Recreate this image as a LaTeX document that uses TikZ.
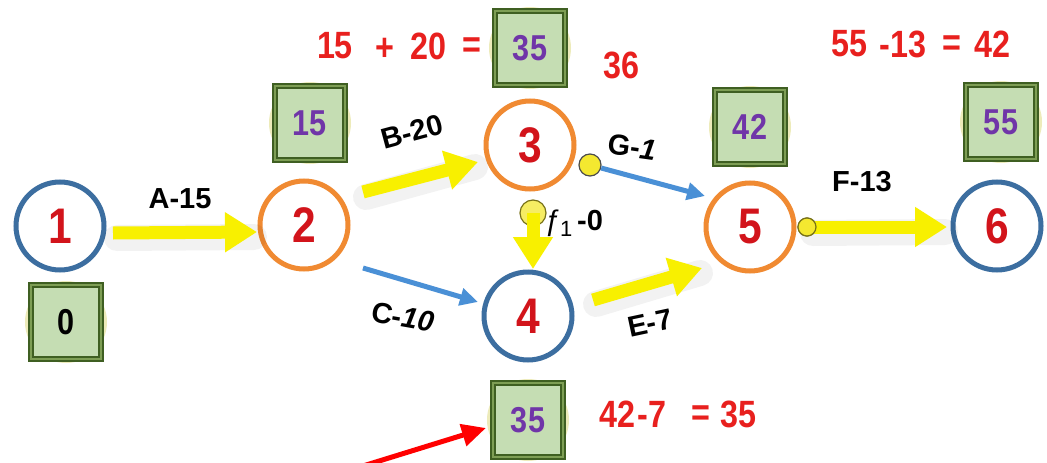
\documentclass[tikz,border=0pt]{standalone}
\usepackage{fontspec}
\setmainfont{Liberation Sans}
\newfontfamily\narrowfont[FakeStretch=0.85]{Liberation Sans}
\usetikzlibrary{arrows.meta,calc}
\definecolor{numred}{HTML}{D2141B}
\definecolor{eqred}{HTML}{E8201E}
\definecolor{evorange}{HTML}{F08A32}
\definecolor{evblue}{HTML}{3C6EA0}
\definecolor{boxfill}{HTML}{C5DDB3}
\definecolor{boxdark}{HTML}{3F5F22}
\definecolor{boxmid}{HTML}{7E9E55}
\definecolor{boxtext}{HTML}{7035A8}
\definecolor{arrowyellow}{HTML}{F8F000}
\definecolor{arrowblue}{HTML}{4A90D6}
\definecolor{dotyellow}{HTML}{F4E830}
\tikzset{
  ev/.style={circle, minimum size=88pt, inner sep=0pt, line width=5pt, fill=white,
    font=\narrowfont\bfseries\fontsize{50}{54}\selectfont, text=numred},
  evo/.style={ev, draw=evorange},
  evb/.style={ev, draw=evblue},
  halo/.style={circle, minimum size=82pt, inner sep=0pt, fill=dotyellow!60!olive, opacity=0.3},
  tbox/.style={rectangle, minimum width=70pt, minimum height=74pt, inner sep=0pt,
    fill=boxfill, draw=boxdark, line width=2.2pt, double=boxmid, double distance=1.8pt,
    font=\narrowfont\bfseries\fontsize{36}{40}\selectfont, text=boxtext},
  elabel/.style={font=\bfseries\fontsize{29}{34}\selectfont, text=black, inner sep=0pt},
  eqtext/.style={font=\narrowfont\bfseries\fontsize{38}{42}\selectfont, text=eqred, inner sep=0pt},
  yarrow/.style={draw=arrowyellow, line width=13pt, -{Triangle[length=32pt,width=38pt]}},
  yshadow/.style={draw=black, opacity=0.05, line width=26pt, line cap=round},
  barrow/.style={draw=arrowblue, line width=5pt, -{Triangle[length=18pt,width=17pt]}},
  rarrow/.style={draw=red, line width=5pt, -{Triangle[length=24pt,width=22pt]}},
  ydot/.style={circle, minimum size=22pt, inner sep=0pt, fill=dotyellow, draw=black!70, line width=1.2pt},
}
\begin{document}
\begin{tikzpicture}[x=1pt,y=-1pt]
\useasboundingbox (0,0) rectangle (1047,463);
\clip (0,0) rectangle (1047,463);
\fill[white] (0,0) rectangle (1047,463);

% halos behind boxes
\node[halo] at (66,322) {};
\node[halo] at (310,123) {};
\node[halo] at (530,48) {};
\node[halo] at (750,127) {};
\node[halo] at (1001,122) {};
\node[halo] at (528,420) {};

% event circles
\node[evb] (n1) at (60,226) {1};
\node[evo] (n2) at (304,225) {2};
\node[evo] (n3) at (530,145) {3};
\node[evb] (n4) at (528,316) {4};
\node[evo] (n5) at (750,227) {5};
\node[evb] (n6) at (997,226) {6};

% time boxes
\node[tbox, text=black] (b0) at (66,322) {0};
\node[tbox] (b15) at (310,123) {15};
\node[tbox] (b35t) at (530,48) {35};
\node[tbox] (b42) at (750,127) {42};
\node[tbox] (b55) at (1001,122) {55};
\node[tbox] (b35b) at (528,420) {35};

% dots
\node[ydot] (gdot) at ($(n3)+(60,20)$) {};
\node[ydot, minimum size=26pt, fill opacity=0.75, draw=olive!80!black] (ddot) at ($(n3)+(3,68)$) {};
\node[ydot, minimum size=18pt, draw=olive!80!black] (fdot) at ($(n5)+(57,0)$) {};

% shadows of yellow arrows
\draw[yshadow] ($(n1)+(57,12)$) -- ($(n2)+(-50,12)$);
\draw[yshadow] ($(n2)+(62,-28)$) -- ($(n3)+(-55,22)$);
\draw[yshadow] ($(n4)+(68,-12)$) -- ($(n5)+(-50,46)$);
\draw[yshadow] ($(fdot)+(6,6)$) -- ($(n6)+(-52,6)$);

% yellow arrows
\draw[yarrow] ($(n1)+(53,7)$) -- ($(n2)+(-47,7)$);
\draw[yarrow] ($(n2)+(59,-33)$) -- ($(n3)+(-52,17)$);
\draw[yarrow] (ddot.center) -- ($(n4)+(5,-47)$);
\draw[yarrow] ($(n4)+(65,-16)$) -- ($(n5)+(-48,41)$);
\draw[yarrow] (fdot.center) -- ($(n6)+(-50,1)$);
\node[ydot, minimum size=18pt, draw=olive!80!black] at (fdot) {};

% blue arrows
\draw[barrow] ($(n2)+(59,43)$) -- ($(n4)+(-50,-14)$);
\draw[barrow] (gdot) -- ($(n5)+(-45,-31)$);

% red arrow
\coordinate (redstart) at (350,470);
\draw[rarrow] (redstart) -- ($(b35b.west)+(-6,8)$);

% activity labels
\node[elabel] (la) at (180,199) {A-15};
\node[elabel, rotate=15] (lb) at (412,132) {B-20};
\node[elabel, rotate=-10] (lc) at (403,317) {C-\textit{10}};
\node[elabel, rotate=-8] (lg) at (632,147) {G-\textit{1}};
\node[elabel] (lf) at (574,223) {{\mdseries ƒ\kern-1pt\raisebox{-6pt}{\fontsize{22}{22}\selectfont 1}}\,-0};
\node[elabel, rotate=12] (le) at (650,323) {E-7};
\node[elabel] (lff) at (862,182) {F-13};

% calculations
\node[eqtext] (e1) at (335,46) {15};
\node[eqtext] (e2) at (385,49) {+};
\node[eqtext] (e3) at (428,46) {20};
\node[eqtext] (e4) at (472,48) {=};
\node[eqtext] (e36) at (621,65) {36};
\node[eqtext] (f1) at (849,44) {55};
\node[eqtext] (f2) at (903,44) {-13};
\node[eqtext] (f3) at (952,46) {=};
\node[eqtext] (f4) at (992,44) {42};
\node[eqtext] (g1) at (617,414) {42};
\node[eqtext] (g2) at (652,414) {-7};
\node[eqtext] (g3) at (701,416) {=};
\node[eqtext] (g4) at (738,414) {35};
\end{tikzpicture}
\end{document}
